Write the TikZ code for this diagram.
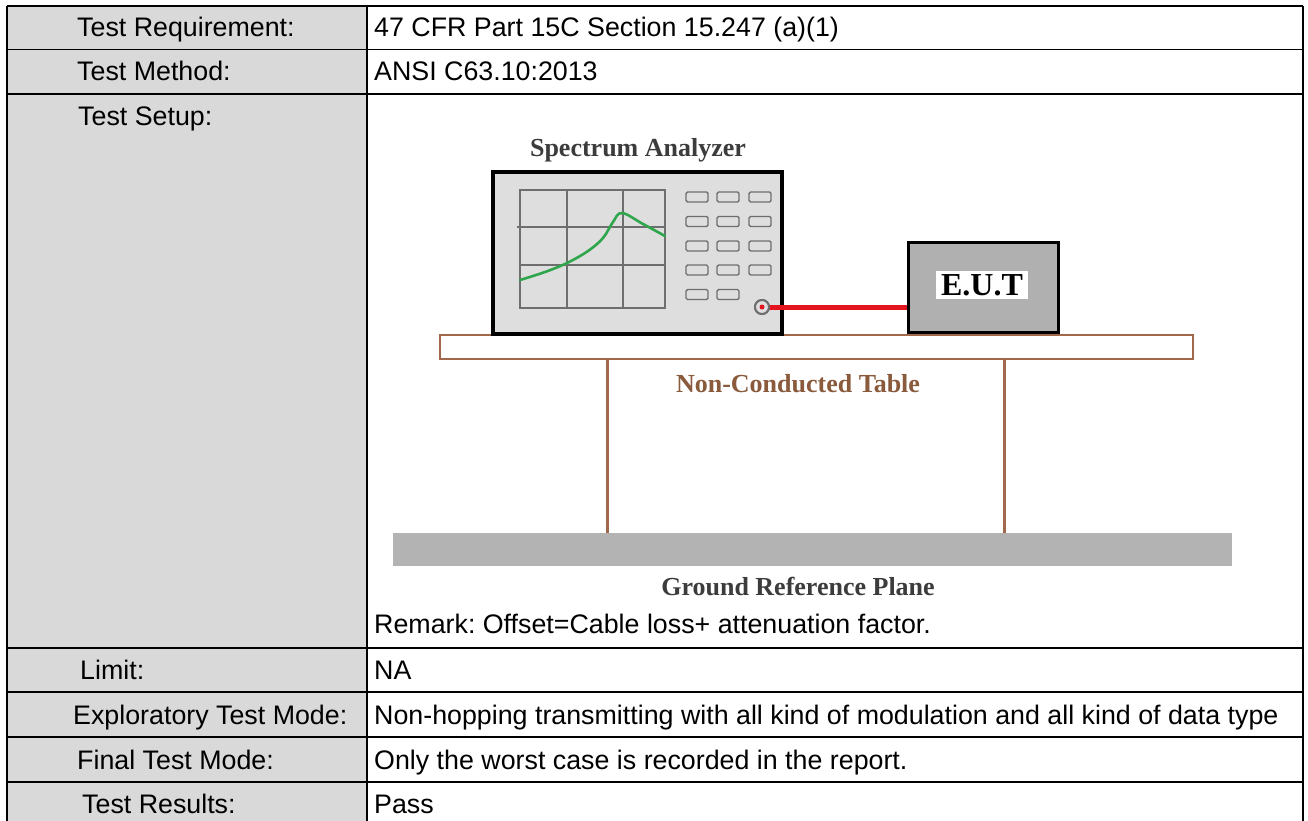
\documentclass[tikz,border=0pt]{standalone}
\usepackage{fontspec}
\setmainfont{Liberation Sans}
\newfontfamily\dgserif{Liberation Serif}
\definecolor{labfill}{HTML}{D9D9D9}
\definecolor{boxfill}{HTML}{DEDEDE}
\definecolor{gridgray}{HTML}{6E6E6E}
\definecolor{tracegreen}{HTML}{2FA64C}
\definecolor{cablered}{HTML}{E3141E}
\definecolor{eutgray}{HTML}{B0B0B0}
\definecolor{tablebrown}{HTML}{A2684B}
\definecolor{tabletext}{HTML}{8A5A3C}
\definecolor{planegray}{HTML}{B3B3B3}
\definecolor{darktext}{HTML}{3C3C3C}
\tikzset{
  rule/.style={line width=1.5pt, black},
  lbl/.style={font=\frenchspacing\fontsize{26.8}{30}\selectfont, inner sep=0pt, anchor=base west},
  dlabel/.style={font=\dgserif\bfseries\fontsize{26}{30}\selectfont, inner sep=0pt, anchor=base},
  gridline/.style={draw=gridgray, line width=2pt},
  knob/.style={draw=gridgray, line width=1.4pt, fill=boxfill, rounded corners=1.5pt},
  trace/.style={draw=tracegreen, line width=2.6pt, line cap=round, line join=round},
  cable/.style={draw=cablered, line width=5pt},
  legline/.style={draw=tablebrown, line width=3pt},
}
\begin{document}
\begin{tikzpicture}[x=1pt,y=-1pt]
\useasboundingbox (0,0) rectangle (1308,821);
% table background
\fill[white] (0,0) rectangle (1308,821);
\fill[labfill] (7,6) rectangle (367,821);
% horizontal rules
\foreach \yy in {6,49.5,94,648,692,737,782}{
  \draw[rule] (7,\yy) -- (1303,\yy);
}
% vertical rules
\draw[rule] (7,6) -- (7,821);
\draw[rule] (367,6) -- (367,821);
\draw[rule] (1303,6) -- (1303,821);
% left column labels
\node[lbl] (l1) at (77,37) {Test Requirement:};
\node[lbl] (l2) at (77,81) {Test Method:};
\node[lbl] (l3) at (78,126) {Test Setup:};
\node[lbl] (l4) at (80,679.5) {Limit:};
\node[lbl] (l5) at (73,724) {Exploratory Test Mode:};
\node[lbl] (l6) at (77,769) {Final Test Mode:};
\node[lbl] (l7) at (82,813.5) {Test Results:};
% right column texts
\node[lbl] (r1) at (374,37) {47 CFR Part 15C Section 15.247 (a)(1)};
\node[lbl] (r2) at (374,81) {ANSI C63.10:2013};
\node[lbl] (r3) at (374,633) {Remark: Offset=Cable loss+ attenuation factor.};
\node[lbl] (r4) at (374,679.5) {NA};
\node[lbl] (r5) at (374,724) {Non-hopping transmitting with all kind of modulation and all kind of data type};
\node[lbl] (r6) at (374,769) {Only the worst case is recorded in the report.};
\node[lbl] (r7) at (374,813.5) {Pass};
% ---- test setup diagram ----
% ground plane
\fill[planegray] (393,533) rectangle (1232,566);
\node[dlabel, text=darktext] (gnd) at (798,595) {Ground Reference Plane};
% table legs
\draw[legline] (607,359) -- (607,533);
\draw[legline] (1004,359) -- (1004,533);
% table top
\node[draw=tablebrown, line width=2pt, fill=white, minimum width=753pt, minimum height=24pt, inner sep=0pt] (tabletop) at (816.5,347) {};
\node[dlabel, text=tabletext] (tbl) at (798,392) {Non-Conducted Table};
% analyzer
\node[dlabel, text=darktext] (salbl) at (638,157) {Spectrum Analyzer};
\node[draw=black, line width=3.5pt, fill=boxfill, minimum width=289pt, minimum height=162pt, inner sep=0pt] (sa) at (637.5,253) {};
% screen grid
\draw[gridline] (520,190) rectangle (665,308);
\draw[gridline] (567,190) -- (567,308);
\draw[gridline] (623,190) -- (623,308);
\draw[gridline] (517,227) -- (665,227);
\draw[gridline] (520,265) -- (665,265);
% trace
\draw[trace] plot[smooth, tension=0.6] coordinates {(520,280) (545,272) (567,263) (588,251) (603,238) (613,222) (622,213) (643,224) (665,236)};
% buttons
\foreach \yy in {192,216.5,241,265,289.5}{
  \foreach \xx in {686,717}{
    \draw[knob] (\xx,\yy) rectangle ++(22,10);
  }
}
\foreach \yy in {192,216.5,241,265}{
  \draw[knob] (749,\yy) rectangle ++(22,10);
}
% port
\node[circle, draw=gridgray, line width=2pt, fill=boxfill, minimum size=14pt, inner sep=0pt] (port) at (762,307) {};
% EUT
\node[draw=black, line width=3pt, fill=eutgray, minimum width=150pt, minimum height=90pt, inner sep=0pt] (eut) at (983,287) {};
\node[fill=white, font=\dgserif\bfseries\fontsize{32}{36}\selectfont, inner xsep=5pt, inner ysep=3pt, text=black] (eutlbl) at (982,285) {E.U.T};
% cable
\draw[cable] (port.center) -- (port.center -| eut.west);
\node[circle, draw=gridgray, line width=2pt, fill=boxfill, minimum size=14pt, inner sep=0pt] at (port) {};
\fill[cablered] (port.center) circle (2.5pt);
\end{tikzpicture}
\end{document}
